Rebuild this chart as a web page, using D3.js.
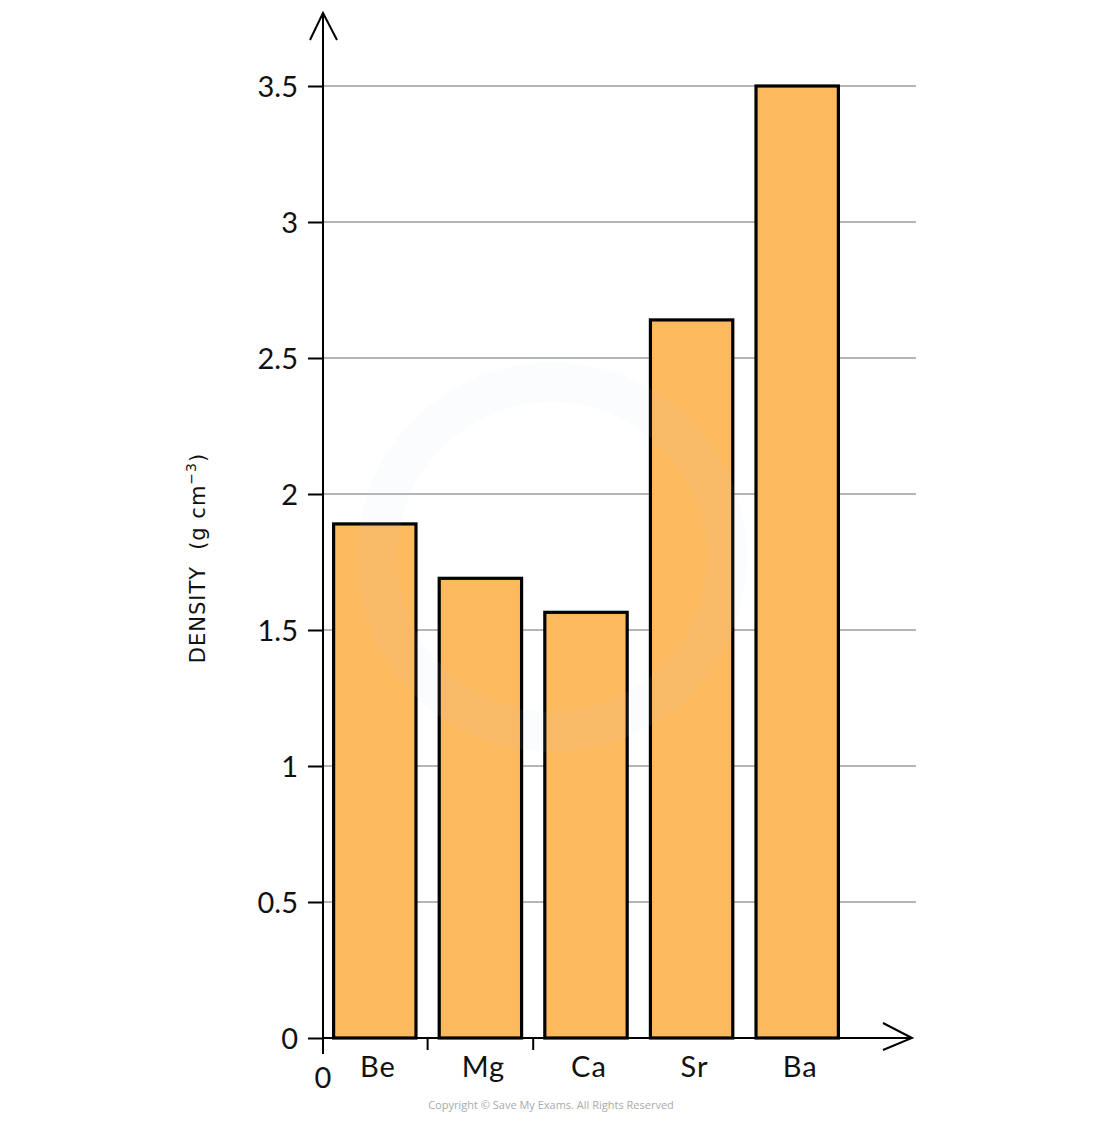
<!DOCTYPE html>
<html><head><meta charset="utf-8">
<script src="https://cdn.jsdelivr.net/npm/d3@7"></script>
<style>body{margin:0;background:#fff}svg{display:block}</style>
</head><body>
<script>
const categories = ["Be","Mg","Ca","Sr","Ba"];
const densities = [1.89, 1.69, 1.565, 2.64, 3.5];
const yTicks = [0, 0.5, 1, 1.5, 2, 2.5, 3, 3.5];
const yTickLabels = ["0","0.5","1","1.5","2","2.5","3","3.5"];
const xTickAfter = ["Be","Mg"];
const yTitle = "DENSITY";
const yUnit = "(g cm";
const footer = "Copyright © Save My Exams. All Rights Reserved";

const W = 1100, H = 1123;
const svg = d3.select("body").append("svg").attr("width", W).attr("height", H);
const font = "Lato, 'Open Sans', sans-serif";

const y = d3.scaleLinear().domain([0, 3.5]).range([1038, 86]);
const x = d3.scaleBand().domain(categories).range([322, 850]).paddingInner(0.22).paddingOuter(0.11);
const axisX = 323;

// gridlines
svg.append("g").selectAll("line").data(yTicks.filter(d => d > 0)).join("line")
  .attr("x1", axisX).attr("x2", 916).attr("y1", d => y(d)).attr("y2", d => y(d))
  .attr("stroke", "#b5b5b5").attr("stroke-width", 2);

// bars
svg.append("g").selectAll("rect").data(categories).join("rect")
  .attr("x", d => x(d)).attr("width", x.bandwidth())
  .attr("y", (d, i) => y(densities[i])).attr("height", (d, i) => y(0) - y(densities[i]))
  .attr("fill", "#fdb95e").attr("stroke", "#000").attr("stroke-width", 3.2);

// faint watermark ring
svg.append("circle").attr("cx", 552).attr("cy", 557).attr("r", 175)
  .attr("fill", "none").attr("stroke", "#c9d9ea").attr("stroke-width", 40).attr("opacity", 0.07);

// y axis with ticks
const yAxis = d3.axisLeft(y).tickValues(yTicks).tickFormat((d, i) => yTickLabels[i]).tickSize(15).tickPadding(10);
const gy = svg.append("g").attr("transform", `translate(${axisX},0)`).call(yAxis);
gy.select(".domain").remove();
gy.selectAll(".tick line").attr("stroke", "#000").attr("stroke-width", 2);
gy.selectAll(".tick text").attr("font-family", font).attr("font-size", 29).attr("fill", "#111").attr("dy", "0.36em");

// y axis line + arrow
svg.append("line").attr("x1", axisX).attr("x2", axisX).attr("y1", 13).attr("y2", 1054).attr("stroke", "#000").attr("stroke-width", 2);
svg.append("path").attr("d", `M${axisX-13},40 L${axisX},13 L${axisX+14},40`).attr("fill", "none").attr("stroke", "#000").attr("stroke-width", 2);

// x axis line + arrow
svg.append("line").attr("x1", axisX).attr("x2", 912).attr("y1", y(0)).attr("y2", y(0)).attr("stroke", "#000").attr("stroke-width", 2);
svg.append("path").attr("d", `M883,${y(0)-15} L912,${y(0)} L883,${y(0)+12}`).attr("fill", "none").attr("stroke", "#000").attr("stroke-width", 2);

// x ticks between categories
svg.append("g").selectAll("line").data(xTickAfter).join("line")
  .attr("x1", d => x(d) + x.bandwidth() + x.step() * x.paddingInner() / 2)
  .attr("x2", d => x(d) + x.bandwidth() + x.step() * x.paddingInner() / 2)
  .attr("y1", y(0)).attr("y2", y(0) + 12).attr("stroke", "#000").attr("stroke-width", 2);

// x labels
svg.append("g").selectAll("text").data(categories).join("text")
  .attr("x", d => x(d) + x.bandwidth() / 2 + 3).attr("y", 1077)
  .attr("text-anchor", "middle").attr("font-family", font).attr("font-size", 29)
  .attr("letter-spacing", 1).attr("fill", "#111").text(d => d);

// origin 0
svg.append("text").attr("x", axisX).attr("y", 1088).attr("text-anchor", "middle")
  .attr("font-family", font).attr("font-size", 29).attr("fill", "#111").text("0");

// y title
const yt = svg.append("text").attr("transform", "translate(205,558) rotate(-90)")
  .attr("text-anchor", "middle").attr("font-family", "'DejaVu Sans', sans-serif")
  .attr("font-size", 21).attr("letter-spacing", 1).attr("fill", "#111");
yt.append("tspan").text(yTitle);
yt.append("tspan").attr("dx", 16).text(yUnit);
yt.append("tspan").attr("font-size", 14).attr("dy", -9).text("−3");
yt.append("tspan").attr("dy", 9).text(")");

// footer
svg.append("text").attr("x", 551).attr("y", 1109).attr("text-anchor", "middle")
  .attr("font-family", "'Open Sans', sans-serif").attr("font-size", 11).attr("fill", "#aaa").text(footer);
</script>
</body></html>
